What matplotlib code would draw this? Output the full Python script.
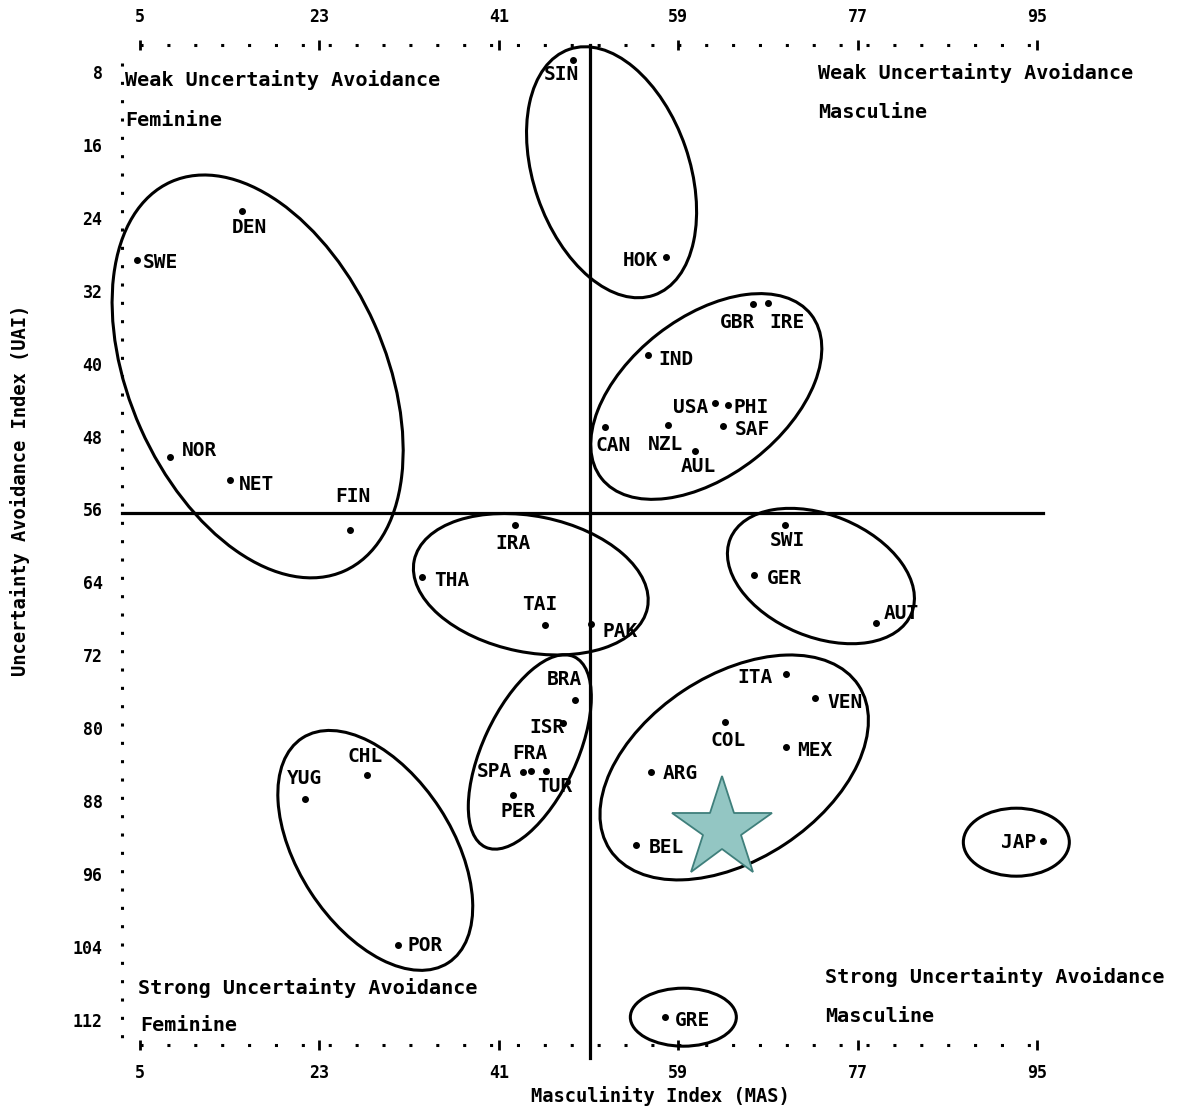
import matplotlib
matplotlib.use("Agg")
import matplotlib.pyplot as plt
from matplotlib.patches import Ellipse
from matplotlib.transforms import ScaledTranslation

# ---------------- data ----------------
countries = ["SIN", "HOK", "GBR", "IRE", "IND", "USA", "PHI", "SAF", "CAN", "NZL",
             "AUL", "DEN", "SWE", "NOR", "NET", "FIN", "IRA", "THA", "TAI", "PAK",
             "SWI", "GER", "AUT", "BRA", "ISR", "FRA", "SPA", "TUR", "PER", "ITA",
             "VEN", "COL", "MEX", "ARG", "BEL", "JAP", "GRE", "YUG", "CHL", "POR"]
mas = [48.4, 57.8, 66.5, 68.0, 56.0, 62.7, 64.0, 63.5, 51.6, 58.0,
       60.7, 15.2, 4.7, 8.0, 14.0, 26.1, 42.6, 33.3, 45.6, 50.2,
       69.7, 66.6, 78.8, 48.6, 47.4, 44.2, 43.4, 45.7, 42.4, 69.8,
       72.7, 63.7, 69.8, 56.3, 54.8, 95.6, 57.7, 21.6, 27.8, 30.9]
uai = [6.7, 28.3, 33.5, 33.4, 39.0, 44.3, 44.5, 46.8, 47.0, 46.7,
       49.6, 23.2, 28.6, 50.2, 52.8, 58.3, 57.7, 63.4, 68.7, 68.6,
       57.7, 63.2, 68.5, 76.9, 79.4, 84.7, 84.8, 84.7, 87.3, 74.0,
       76.7, 79.3, 82.1, 84.8, 92.8, 92.4, 111.7, 87.8, 85.1, 103.8]

x_ticks = [5, 23, 41, 59, 77, 95]
y_ticks = [8, 16, 24, 32, 40, 48, 56, 64, 72, 80, 88, 96, 104, 112]

mas_split = 50.1
uai_split = 56.4

star_mas = [63.4]
star_uai = [91.0]

# cluster ellipse centres (MAS, UAI)
cluster_mas = [16.8, 52.3, 61.8, 44.2, 73.3, 44.1, 64.6, 28.6, 92.9, 59.5]
cluster_uai = [41.4, 19.0, 43.6, 64.2, 63.3, 82.6, 84.3, 93.4, 92.5, 111.7]

# ---------------- styling ----------------
# ellipse shapes: semi-axes in pixels, angle clockwise on screen
ell_shape = [(213, 128, 66), (130, 78, 71), (133, 79, -38), (119, 68, 11.5),
             (98, 61, 22.5), (105, 47, -65), (149, 92, -33.5), (134, 77, 57),
             (53, 34, 0), (53, 29, 0)]

# label offsets in pixels (right, down) of label centre relative to the point
label_off = {
    "SIN": (-11, 14), "HOK": (-26, 3), "GBR": (-16, 18), "IRE": (19, 19),
    "IND": (28, 5), "USA": (-25, 5), "PHI": (23, 3), "SAF": (29, 4),
    "CAN": (9, 18), "NZL": (-3, 20), "AUL": (3, 15), "DEN": (8, 17),
    "SWE": (23, 3), "NOR": (30, -6), "NET": (27, 4), "FIN": (3, -34),
    "IRA": (-2, 19), "THA": (30, 4), "TAI": (-5, -21), "PAK": (29, 7),
    "SWI": (2, 16), "GER": (30, 3), "AUT": (26, -10), "BRA": (-10, -20),
    "ISR": (-16, 5), "FRA": (-1, -18), "SPA": (-28, -1), "TUR": (9, 15),
    "PER": (5, 17), "ITA": (-31, 4), "VEN": (30, 4), "COL": (3, 19),
    "MEX": (29, 3), "ARG": (29, 1), "BEL": (30, 3), "JAP": (-25, 1),
    "GRE": (27, 3), "YUG": (-1, -21), "CHL": (-2, -18), "POR": (27, 0),
}

FONT = "DejaVu Sans Mono"
W, H = 1188, 1110
fig = plt.figure(figsize=(W / 100, H / 100), dpi=100)
ax = fig.add_axes([122 / W, 1 - 1045 / H, 938 / W, 1000 / H])
ax.set_xlim(3.195, 97.28)
ax.set_ylim(114.75, 5.04)
ax.set_facecolor("white")

# dotted frame
ax.spines["right"].set_visible(False)
ax.spines["top"].set_bounds(5, 95)
ax.spines["bottom"].set_bounds(5, 95)
ax.spines["left"].set_bounds(7, 114.5)
for side in ["top", "bottom"]:
    ax.spines[side].set_linestyle((0, (1, 7.8)))
    ax.spines[side].set_linewidth(2.2)
    ax.spines[side].set_capstyle("butt")
ax.spines["left"].set_linestyle((0, (1, 5.0)))
ax.spines["left"].set_linewidth(2.2)
ax.spines["left"].set_capstyle("butt")

ax.set_xticks(x_ticks)
ax.set_yticks(y_ticks)
ax.xaxis.set_ticks_position("both")
ax.tick_params(axis="x", which="both", top=True, bottom=True, labeltop=True,
               labelbottom=True, direction="inout", length=7, width=2,
               labelsize=12, pad=10)
ax.tick_params(axis="y", length=0, labelsize=12, pad=14)
for lab in ax.get_xticklabels() + ax.get_yticklabels():
    lab.set_fontfamily(FONT)
    lab.set_fontweight("bold")

# quadrant dividers
ax.plot([3.2, 95.6], [uai_split, uai_split], color="black", lw=2.3, clip_on=False, zorder=2)
ax.plot([mas_split, mas_split], [5.0, 116.2], color="black", lw=2.3, clip_on=False, zorder=2)

# cluster ellipses
for cx, cy, (a, b, ang) in zip(cluster_mas, cluster_uai, ell_shape):
    e = Ellipse((0, 0), 2 * a / 100, 2 * b / 100, angle=-ang,
                transform=fig.dpi_scale_trans + ScaledTranslation(cx, cy, ax.transData),
                fill=False, edgecolor="black", lw=2.2, zorder=3, clip_on=False)
    ax.add_patch(e)

# country points and labels
ax.plot(mas, uai, linestyle="none", marker="o", ms=4, color="black", zorder=4)
for name, x, y in zip(countries, mas, uai):
    dx, dy = label_off[name]
    ax.annotate(name, (x, y), xytext=(dx * 0.72, -dy * 0.72), textcoords="offset points",
                ha="center", va="center", fontsize=14, fontweight="bold",
                family=FONT, zorder=4)

# star
ax.plot(star_mas, star_uai, linestyle="none", marker="*", ms=76,
        mfc="#93C6C3", mec="#3F7F7B", mew=1.3, zorder=6, clip_on=False)

# quadrant descriptions
qkw = dict(fontsize=14.5, fontweight="bold", family=FONT, ha="left", va="center", zorder=5)
ax.text(3.5, 8.9, "Weak Uncertainty Avoidance", **qkw)
ax.text(3.5, 13.3, "Feminine", **qkw)
ax.text(73.0, 8.1, "Weak Uncertainty Avoidance", **qkw)
ax.text(73.0, 12.4, "Masculine", **qkw)
ax.text(4.8, 108.5, "Strong Uncertainty Avoidance", **qkw)
ax.text(5.0, 112.6, "Feminine", **qkw)
ax.text(73.7, 107.3, "Strong Uncertainty Avoidance", **qkw)
ax.text(73.7, 111.6, "Masculine", **qkw)

# axis titles
fig.text(20 / W, 1 - 490 / H, "Uncertainty Avoidance Index (UAI)", rotation=90,
         ha="center", va="center", fontsize=13.5, fontweight="bold", family=FONT)
fig.text(660 / W, 1 - 1096 / H, "Masculinity Index (MAS)", ha="center", va="center",
         fontsize=13.5, fontweight="bold", family=FONT)

fig.savefig("out.png", dpi=100, facecolor="white")
